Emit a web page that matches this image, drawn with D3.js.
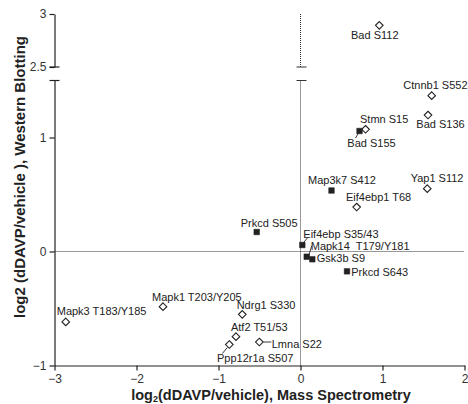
<!DOCTYPE html>
<html><head><meta charset="utf-8">
<script src="https://cdn.jsdelivr.net/npm/d3@7"></script>
<style>
body{margin:0;background:#fff;}
text{font-family:"Liberation Sans",Arial,sans-serif;}
</style></head>
<body><svg id="c" width="468" height="404"></svg>
<script>
// ---- data ----
const names = ["Bad S112","Ctnnb1 S552","Bad S136","Stmn S15","Bad S155","Map3k7 S412","Yap1 S112","Eif4ebp1 T68","Prkcd S505","Eif4ebp S35/43","Mapk14  T179/Y181","Gsk3b S9","Prkcd S643","Mapk1 T203/Y205","Mapk3 T183/Y185","Ndrg1 S330","Atf2 T51/53","Ppp12r1a S507","Lmna S22"];
const msValues = [0.961,1.60,1.555,0.793,0.72,0.378,1.546,0.685,-0.534,0.022,0.076,0.144,0.567,-1.677,-2.863,-0.710,-0.787,-0.868,-0.502];
const wbValues = [2.893,1.367,1.197,1.072,1.057,0.535,0.551,0.390,0.171,0.057,-0.046,-0.068,-0.174,-0.484,-0.618,-0.551,-0.747,-0.816,-0.794];
const markerType = ["d","d","d","d","s","s","d","d","s","s","s","s","s","d","d","d","d","d","d"];
const xTicks = [-3,-2,-1,0,1,2];
const yTicksLow = [-1,0,1];
const yTicksHigh = [2.5,3];
// label placement (pixel offsets from point; layout only)
const labelDx = [-28.3,-28.4,-11.7,-5.5,-12.2,-23.5,-16.6,-10.7,-16,1,4,4.4,4.3,-11,-9,-5.6,-5,-12.3,12.4];
const labelDy = [13.7,-6.4,13.3,-6.6,15.7,-7,-6.2,-6,-5,-7.3,-6.7,3.2,4.7,-5.7,-7,-5.3,-5.2,17,5.5];
// leader lines: [index, x1off,y1off,x2off,y2off]
const leaders = [[4,-1,2,-4,7],[9,1,-2,5,-7],[10,2,-1,5,-11],[17,-2,3,-7,9],[18,4,0,12,0]];

const svg = d3.select("#c");
const x = d3.scaleLinear().domain([-3,2]).range([54.5,464.5]);
const yL = d3.scaleLinear().domain([-1,1.5]).range([365.5,80.5]);
const yH = d3.scaleLinear().domain([2.5,3]).range([67,14]);
const yv = v => v > 2 ? yH(v) : yL(v);

// dotted reference lines
const dot = "#333";
svg.append("line").attr("x1",x(-3)).attr("x2",x(2)).attr("y1",yL(0)).attr("y2",yL(0))
  .attr("stroke",dot).attr("stroke-width",1).attr("stroke-dasharray","1,1");
svg.append("line").attr("x1",x(0)).attr("x2",x(0)).attr("y1",yH(3)).attr("y2",yH(2.5))
  .attr("stroke",dot).attr("stroke-width",1).attr("stroke-dasharray","1,1");
svg.append("line").attr("x1",x(0)).attr("x2",x(0)).attr("y1",yL(1.5)).attr("y2",yL(-1))
  .attr("stroke",dot).attr("stroke-width",1).attr("stroke-dasharray","1,1");
// break marks on dotted line
[yH(2.5), yL(1.5)].forEach(yy=>{
  svg.append("line").attr("x1",x(0)-4).attr("x2",x(0)+6).attr("y1",yy).attr("y2",yy)
    .attr("stroke","#333").attr("stroke-width",1);
});

// axes
const axColor = "#222";
const gx = svg.append("g").attr("transform",`translate(0,${yL(-1)})`)
  .call(d3.axisBottom(x).tickValues(xTicks).tickSize(5).tickPadding(4).tickSizeOuter(0).tickFormat(d3.format("d")));
const gyL = svg.append("g").attr("transform",`translate(${x(-3)},0)`)
  .call(d3.axisLeft(yL).tickValues(yTicksLow).tickSize(5).tickSizeOuter(0).tickFormat(d3.format("d")));
const gyH = svg.append("g").attr("transform",`translate(${x(-3)},0)`)
  .call(d3.axisLeft(yH).tickValues(yTicksHigh).tickSize(5).tickSizeOuter(0).tickFormat(d=>d===3?"3":"2.5"));
[gx,gyL,gyH].forEach(g=>{
  g.select(".domain").attr("stroke",axColor).attr("stroke-width",1.2);
  g.selectAll(".tick line").attr("stroke",axColor).attr("stroke-width",1.2);
  g.selectAll(".tick text").attr("fill","#333").style("font-size","12px").style("font-family","Liberation Sans, Arial, sans-serif");
});
gyL.selectAll(".tick text").attr("x",-8);
gyH.selectAll(".tick text").attr("x",-8);
// break marks on y axis
[yH(2.5), yL(1.5)].forEach(yy=>{
  svg.append("line").attr("x1",x(-3)-5).attr("x2",x(-3)+5).attr("y1",yy).attr("y2",yy)
    .attr("stroke",axColor).attr("stroke-width",1.2);
});

// leader lines
leaders.forEach(l=>{
  const i=l[0], px=x(msValues[i]), py=yv(wbValues[i]);
  svg.append("line").attr("x1",px+l[1]).attr("y1",py+l[2]).attr("x2",px+l[3]).attr("y2",py+l[4])
    .attr("stroke","#222").attr("stroke-width",0.9);
});

// points
const pts = names.map((n,i)=>({n,x:msValues[i],y:wbValues[i],t:markerType[i],dx:labelDx[i],dy:labelDy[i]}));
svg.selectAll("path.pt").data(pts).join("path").attr("class","pt")
  .attr("transform",d=>`translate(${x(d.x)},${yv(d.y)})`)
  .attr("d",d=>d.t==="d" ? "M0,-3.8L3.8,0L0,3.8L-3.8,0Z" : "M-2.8,-2.8H2.8V2.8H-2.8Z")
  .attr("fill",d=>d.t==="d"?"#fff":"#222")
  .attr("stroke","#222").attr("stroke-width",d=>d.t==="d"?1.1:0.5);

svg.selectAll("text.lab").data(pts).join("text").attr("class","lab")
  .attr("x",d=>x(d.x)+d.dx).attr("y",d=>yv(d.y)+d.dy)
  .attr("fill","#222").style("font-size","11px").style("white-space","pre")
  .text(d=>d.n);

// axis titles
const xt = svg.append("text").attr("x",271).attr("y",400).attr("text-anchor","middle")
  .attr("fill","#222").style("font-size","14.5px").style("font-weight","bold");
xt.append("tspan").text("log");
xt.append("tspan").text("2").attr("dy",2).style("font-size","9px");
xt.append("tspan").text("(dDAVP/vehicle), Mass Spectrometry").attr("dy",-2);

svg.append("text").attr("transform","translate(25,177) rotate(-90)").attr("text-anchor","middle")
  .attr("fill","#222").style("font-size","15px").style("font-weight","bold")
  .text("log2 (dDAVP/vehicle ), Western Blotting");
</script></body></html>
